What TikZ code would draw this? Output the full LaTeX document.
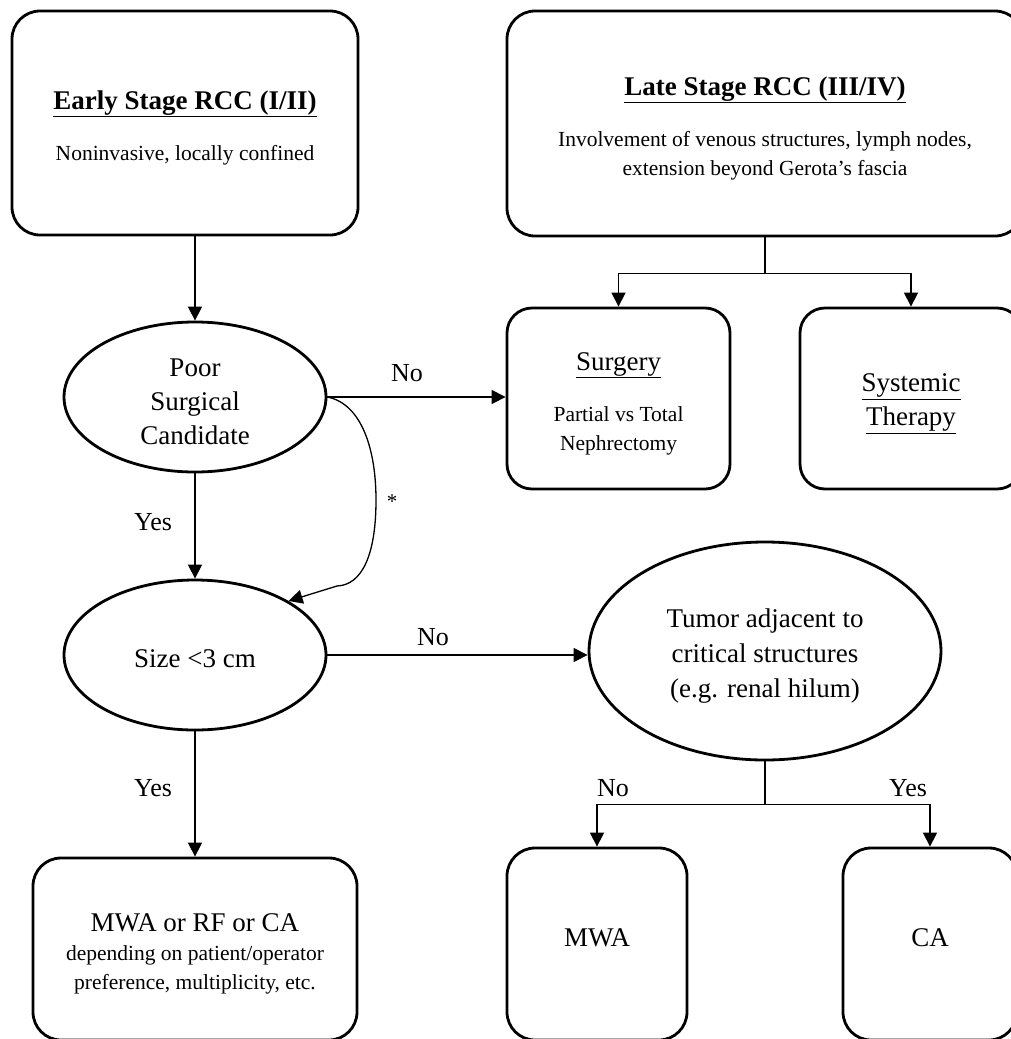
\documentclass[tikz,border=0pt]{standalone}
\usepackage{fontspec}
\setmainfont{Liberation Serif}
\usetikzlibrary{arrows.meta,shapes.geometric}
\newcommand{\bigtxt}{\fontsize{27}{34}\selectfont}
\newcommand{\smalltxt}{\fontsize{21.5}{29}\selectfont}
\newcommand{\topstrut}{\rule{0pt}{28pt}}
\begin{document}
\begin{tikzpicture}[x=1pt,y=-1pt,
 box/.style={draw,line width=2.8pt,rounded corners=28pt,inner sep=0pt,align=center},
 oval/.style={draw,ellipse,line width=2.8pt,inner sep=0pt,align=center},
 conn/.style={line width=1.3pt},
 arr/.style={conn,-{Triangle[length=14pt,width=14pt]}},
 lbl/.style={font=\fontsize{26}{30}\selectfont,inner sep=0pt},
 bigf/.style={font=\bigtxt},
 smallf/.style={font=\smalltxt},
]
\useasboundingbox (0,0) rectangle (1011,1039);
\fill[white] (0,0) rectangle (1011,1039);

% boxes
\node[box,smallf,minimum width=346pt,minimum height=224pt] (early) at (185,123)
 {\topstrut{\bigtxt\bfseries\underline{Early Stage RCC (I/II)}}\\[22pt]
  Noninvasive, locally confined};
\node[box,smallf,minimum width=516pt,minimum height=225pt] (late) at (765,123.5)
 {\topstrut{\bigtxt\bfseries\underline{Late Stage RCC (III/IV)}}\\[22pt]
  Involvement of venous structures, lymph nodes,\\
  extension beyond Gerota’s fascia};
\node[box,smallf,rounded corners=25pt,minimum width=223pt,minimum height=181pt] (surg) at (618.5,398.5)
 {\topstrut{\bigtxt\underline{Surgery}}\\[22pt]
  Partial vs Total\\ Nephrectomy};
\node[box,bigf,rounded corners=25pt,minimum width=222pt,minimum height=181pt] (sys) at (911,398.5)
 {\topstrut\underline{Systemic}\\\underline{Therapy}};
\node[box,smallf,minimum width=324pt,minimum height=182pt] (res) at (195,949)
 {\topstrut{\bigtxt MWA or RF or CA}\\[0pt]
  depending on patient/operator\\
  preference, multiplicity, etc.};
\node[box,bigf,text depth=12pt,minimum width=180pt,minimum height=192pt] (mwa) at (597,944) {MWA};
\node[box,bigf,text depth=12pt,minimum width=174pt,minimum height=192pt] (ca) at (930,944) {CA};

% ellipses
\node[oval,bigf,minimum width=262pt,minimum height=150pt] (poor) at (195,397)
 {\topstrut Poor\\Surgical\\Candidate};
\node[oval,bigf,text height=25pt,minimum width=262pt,minimum height=150pt] (size) at (195,655)
 {Size {<}3 cm};
\node[oval,bigf,minimum width=352pt,minimum height=218pt] (tumor) at (765,651)
 {\topstrut Tumor adjacent to\\[1pt]critical structures\\[1pt](e.g. renal hilum)};

% connectors
\draw[arr] (poor.north |- early.south) -- (poor.north);
\draw[conn] (late.south) -- ++(0,36) coordinate (lj);
\draw[arr] (lj) -| (surg.north);
\draw[arr] (lj) -| (sys.north);
\draw[arr] (poor.east) -- (poor.east -| surg.west);
\node[lbl] (no1) at (407,373) {No};
\draw[arr] (poor.south) -- (size.north);
\node[lbl] (yes1) at (153,522) {Yes};
\draw[arr] (poor.east) .. controls (362,404) and (376,450) .. (376,500)
  .. controls (376,555) and (362,585) .. (337,586) -- (size.30);
\node[font=\fontsize{21}{24}\selectfont,inner sep=0pt] (star) at (392,502) {*};
\draw[arr] (size.east) -- (size.east -| tumor.west);
\node[lbl] (no2) at (433,637) {No};
\draw[arr] (size.south) -- (res.north);
\node[lbl] (yes2) at (153,788) {Yes};
\draw[conn] (tumor.south) -- ++(0,43) coordinate (tj);
\draw[arr] (tj) -| (mwa.north);
\draw[arr] (tj) -| (ca.north);
\node[lbl] (no3) at (613,788) {No};
\node[lbl] (yes3) at (908,788) {Yes};
\end{tikzpicture}
\end{document}
